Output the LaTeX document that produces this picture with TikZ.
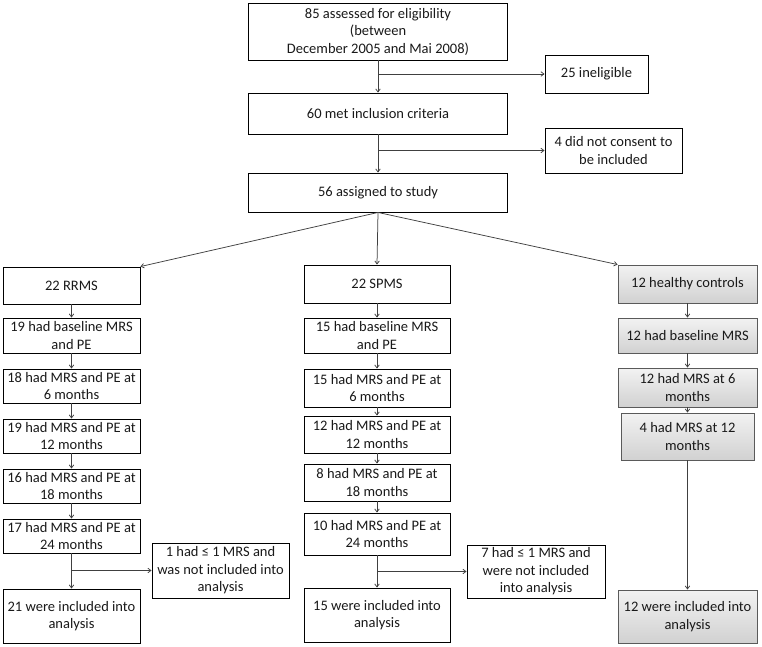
\documentclass[tikz,border=0pt]{standalone}
\usepackage{fontspec}
\setmainfont{Carlito}
\usepackage{tikz}
\usetikzlibrary{arrows.meta,positioning}
\definecolor{flowLine}{RGB}{64,64,64}
\definecolor{ctrlEdge}{RGB}{90,90,90}

\begin{document}
\begin{tikzpicture}[x=1pt,y=-1pt,
    box/.style={draw=black, line width=0.9pt, align=center, inner sep=0pt,
        text=black!90, font=\fontsize{14.5}{17.5}\selectfont},
    ctrlbox/.style={box, draw=ctrlEdge, top color=gray!10, bottom color=gray!36},
    flowarrow/.style={flowLine, line width=0.75pt, -{Straight Barb[length=3pt,width=4.5pt]}}]
    \useasboundingbox (0,0) rectangle (762,647);

    % screening
    \node[box, minimum width=259, minimum height=57] (n85) at (378,31.5)
        {85 assessed for eligibility\\(between\\December 2005 and Mai 2008)};
    \node[box, minimum width=103, minimum height=38] (inel) at (596.5,74) {25 ineligible};
    \node[box, minimum width=259, minimum height=41] (n60) at (378,113.5) {60 met inclusion criteria};
    \node[box, minimum width=137, minimum height=45] (nocons) at (613.5,150.5)
        {4 did not consent to\\be included};
    \node[box, minimum width=259, minimum height=39] (n56) at (378,192.5) {56 assigned to study};

    % RRMS column
    \node[box, minimum width=137, minimum height=37] (rr0) at (71.5,285.5) {22 RRMS};
    \node[box, minimum width=137, minimum height=35] (rr1) at (71.5,335.5) {19 had baseline MRS\\and PE};
    \node[box, minimum width=137, minimum height=34] (rr2) at (71.5,386) {18 had MRS and PE at\\6 months};
    \node[box, minimum width=137, minimum height=34] (rr3) at (71.5,436) {19 had MRS and PE at\\12 months};
    \node[box, minimum width=137, minimum height=34] (rr4) at (71.5,486) {16 had MRS and PE at\\18 months};
    \node[box, minimum width=137, minimum height=34] (rr5) at (71.5,536) {17 had MRS and PE at\\24 months};
    \node[box, minimum width=137, minimum height=54] (rr6) at (71.5,616) {21 were included into\\analysis};
    \node[box, minimum width=137, minimum height=55] (rrx) at (220.5,570.5)
        {1 had ≤ 1 MRS and\\was not included into\\analysis};

    % SPMS column
    \node[box, minimum width=146, minimum height=38] (sp0) at (377,284) {22 SPMS};
    \node[box, minimum width=146, minimum height=35] (sp1) at (377,335.5) {15 had baseline MRS\\and PE};
    \node[box, minimum width=146, minimum height=38] (sp2) at (377,388) {15 had MRS and PE at\\6 months};
    \node[box, minimum width=146, minimum height=37] (sp3) at (377,434.5) {12 had MRS and PE at\\12 months};
    \node[box, minimum width=146, minimum height=37] (sp4) at (377,482.5) {8 had MRS and PE at\\18 months};
    \node[box, minimum width=146, minimum height=42] (sp5) at (377,534) {10 had MRS and PE at\\24 months};
    \node[box, minimum width=146, minimum height=54] (sp6) at (377,615) {15 were included into\\analysis};
    \node[box, minimum width=138, minimum height=53] (spx) at (536,571.5)
        {7 had ≤ 1 MRS and\\were not included\\into analysis};

    % healthy controls column
    \node[ctrlbox, minimum width=139, minimum height=38] (hc0) at (687.5,284) {12 healthy controls};
    \node[ctrlbox, minimum width=139, minimum height=35] (hc1) at (687.5,335.5) {12 had baseline MRS};
    \node[ctrlbox, minimum width=139, minimum height=39] (hc2) at (687.5,387.5) {12 had MRS at 6\\months};
    \node[ctrlbox, minimum width=133, minimum height=47] (hc3) at (687.5,436.5) {4 had MRS at 12\\months};
    \node[ctrlbox, minimum width=139, minimum height=53] (hc4) at (687.5,616.5) {12 were included into\\analysis};

    % trunk and exclusions
    \draw[flowarrow] (n85.south) -- (n60.north);
    \draw[flowarrow] (n60.south) -- (n56.north);
    \draw[flowarrow] (n85.south |- inel.west) -- (inel.west);
    \draw[flowarrow] (n60.south |- nocons.west) -- (nocons.west);

    % allocation
    \draw[flowarrow] (n56.south) -- (rr0.north east);
    \draw[flowarrow] (n56.south) -- (sp0.north);
    \draw[flowarrow] (n56.south) -- (hc0.north west);

    % follow-up chains
    \foreach \col in {rr,sp}{
        \foreach \i [evaluate=\i as \j using int(\i+1)] in {0,...,5}
            \draw[flowarrow] (\col\i.south) -- (\col\j.north);
    }
    \foreach \i [evaluate=\i as \j using int(\i+1)] in {0,...,3}
        \draw[flowarrow] (hc\i.south) -- (hc\j.north);
    \draw[flowarrow] (rr5.south |- rrx.west) -- (rrx.west);
    \draw[flowarrow] (sp5.south |- spx.west) -- (spx.west);
\end{tikzpicture}
\end{document}
